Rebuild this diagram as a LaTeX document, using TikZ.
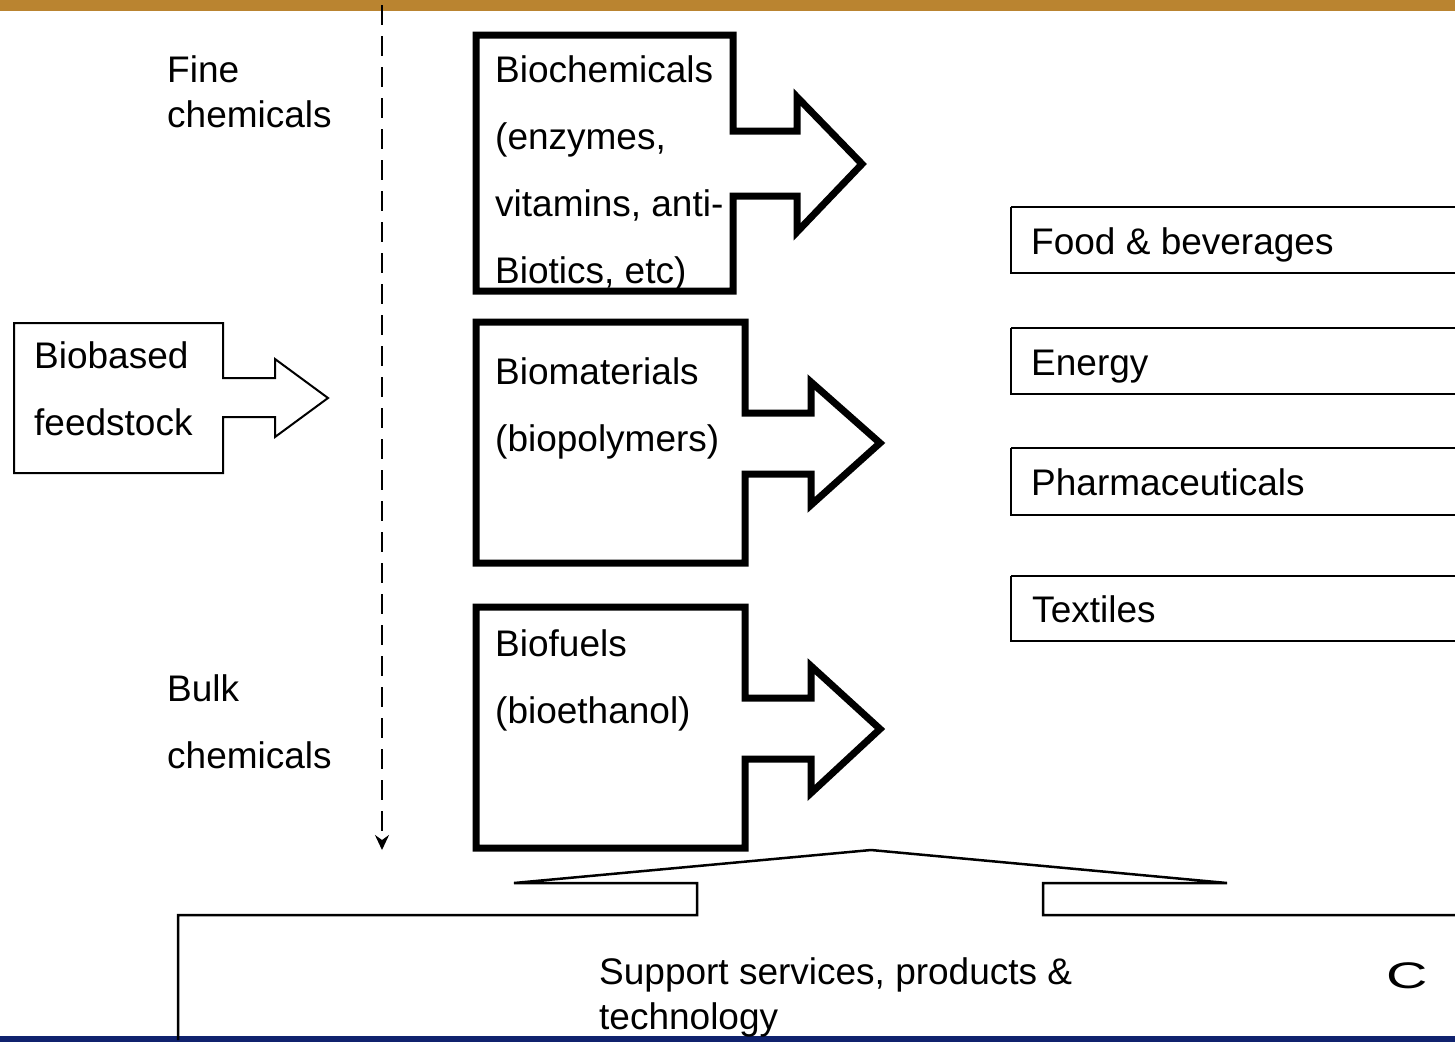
\documentclass[tikz,border=0pt]{standalone}
\usepackage{fontspec}
\setmainfont{Liberation Sans}
\usetikzlibrary{arrows.meta}
\definecolor{topgold}{HTML}{BA8430}
\definecolor{botnavy}{HTML}{10226E}
\tikzset{
  lbl/.style={anchor=base west, inner sep=0pt, align=left, font=\fontsize{37}{67}\selectfont},
  lbltight/.style={anchor=base west, inner sep=0pt, align=left, font=\fontsize{37}{45}\selectfont},
  thickcallout/.style={draw=black, line width=7pt, line join=miter, fill=white},
  thincallout/.style={draw=black, line width=2pt, line join=miter, fill=white},
  sectorbox/.style={draw=black, line width=2pt},
  scaledash/.style={line width=2pt, dash pattern=on 20pt off 11pt, -{Stealth[length=15pt,width=14pt,inset=5pt]}}
}
\begin{document}
\begin{tikzpicture}[x=1pt,y=-1pt]
\useasboundingbox (0,0) rectangle (1455,1042);
\clip (0,0) rectangle (1455,1042);
\fill[white] (0,0) rectangle (1455,1042);
% bars
\fill[topgold] (0,0) rectangle (1455,11);
\fill[botnavy] (0,1036) rectangle (1455,1042);

% dashed scale arrow
\coordinate (dtop) at (382,5);
\coordinate (dbot) at (382,850);
\draw[scaledash] (dtop) -- (dbot);

% side labels (anchored at baseline of last line)
\node[lbltight] (fine) at (167,127) {Fine\\chemicals};
\node[lbl] (bulk) at (167,768) {Bulk\\chemicals};

% biobased feedstock callout
\draw[thincallout] (14,323) -- (223,323) -- (223,378) -- (275,378) -- (275,359) -- (328,398)
  -- (275,437) -- (275,417) -- (223,417) -- (223,473) -- (14,473) -- cycle;
\node[lbl] (feed) at (34,435) {Biobased\\feedstock};

% biochemicals callout
\draw[thickcallout] (476,35) -- (733,35) -- (733,131) -- (797,131) -- (797,97) -- (862,164)
  -- (797,232) -- (797,196) -- (733,196) -- (733,291) -- (476,291) -- cycle;
\node[lbl] (biochem) at (495,283) {Biochemicals\\(enzymes,\\vitamins, anti-\\Biotics, etc)};

% biomaterials callout
\draw[thickcallout] (476,322) -- (745,322) -- (745,413) -- (811,413) -- (811,382) -- (880,443)
  -- (811,505) -- (811,474) -- (745,474) -- (745,563) -- (476,563) -- cycle;
\node[lbl] (biomat) at (495,451) {Biomaterials\\(biopolymers)};

% biofuels callout
\draw[thickcallout] (476,607) -- (745,607) -- (745,698) -- (811,698) -- (811,666) -- (880,729)
  -- (811,793) -- (811,759) -- (745,759) -- (745,848) -- (476,848) -- cycle;
\node[lbl] (biofuel) at (495,723) {Biofuels\\(bioethanol)};

% sector boxes
\draw[sectorbox] (1011,207) -- (1470,207) (1011,207) -- (1011,273) -- (1470,273);
\node[lbl] (food) at (1031,254) {Food \& beverages};
\draw[sectorbox] (1011,328) -- (1470,328) (1011,328) -- (1011,394) -- (1470,394);
\node[lbl] (energy) at (1031,375) {Energy};
\draw[sectorbox] (1011,448) -- (1470,448) (1011,448) -- (1011,515) -- (1470,515);
\node[lbl] (pharma) at (1031,495) {Pharmaceuticals};
\draw[sectorbox] (1011,576) -- (1470,576) (1011,576) -- (1011,641) -- (1470,641);
\node[lbl] (textiles) at (1032,622) {Textiles};

% support callout (up arrow)
\draw[line width=2.5pt, line join=miter] (178,1040) -- (178,915) -- (697,915) -- (697,883) -- (514,883)
  -- (871,850) -- (1227,883) -- (1043,883) -- (1043,915) -- (1470,915);
\node[lbltight] (support) at (599,1029) {Support services, products \&\\technology};
\node[anchor=base west, inner sep=0pt, font=\fontsize{37}{45}\selectfont] (cee) at (1386,988) {\scalebox{1.55}[1]{C}};
\end{tikzpicture}
\end{document}
